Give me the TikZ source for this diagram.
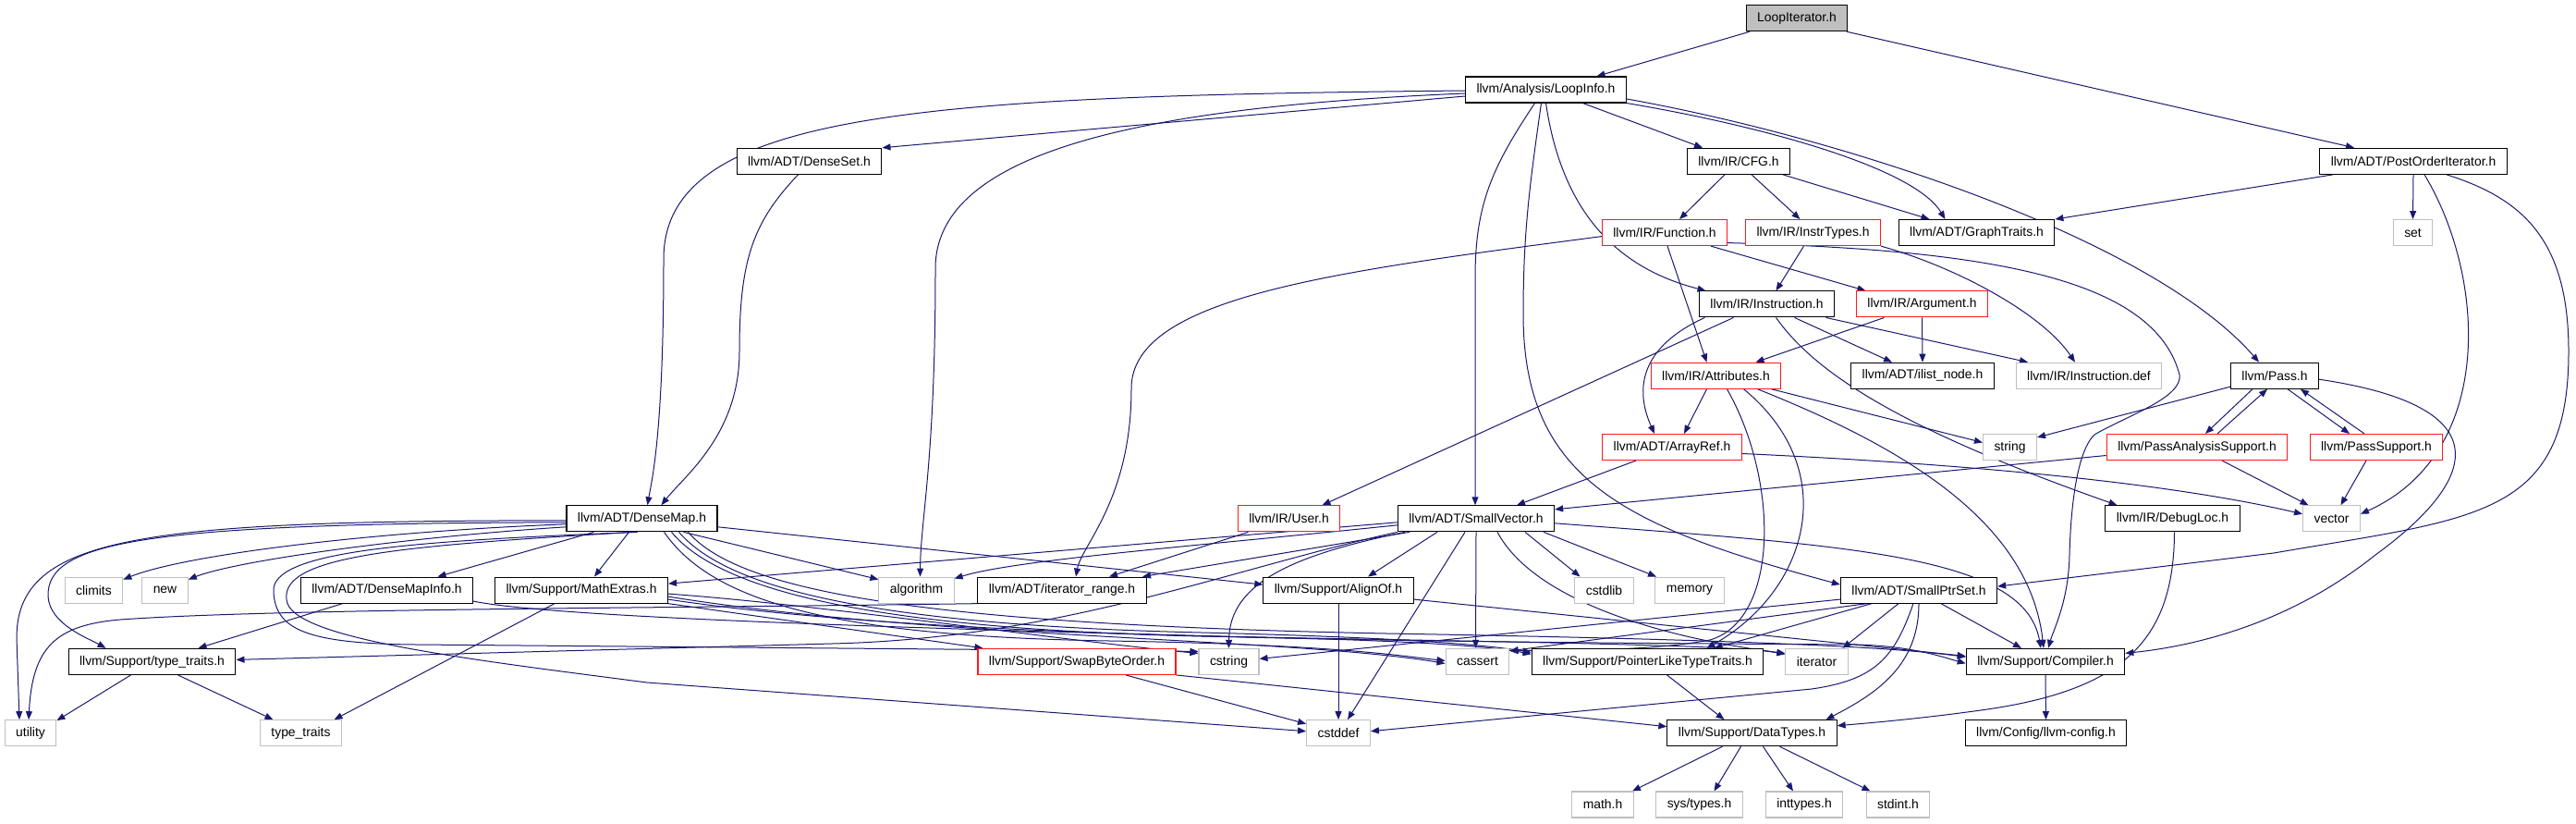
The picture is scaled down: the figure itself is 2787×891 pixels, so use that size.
\documentclass[tikz,border=0pt]{standalone}
\usepackage{fontspec}
\setmainfont{Liberation Sans}
\usepackage{tikz}
\usetikzlibrary{arrows.meta,backgrounds}
\definecolor{edgeblue}{HTML}{191970}
\definecolor{boxgrey}{HTML}{BFBFBF}
\definecolor{boxred}{HTML}{FF1A1A}

\begin{document}
\begin{tikzpicture}[x=1pt, y=-1pt, >={Triangle[length=9pt,width=7pt]},
  every node/.style={font=\fontsize{13.9}{16}\selectfont, minimum height=28pt, inner xsep=12pt, inner ysep=0pt, line width=1.1pt},
  file/.style={draw=black, fill=white},
  trunc/.style={draw=boxred, fill=white},
  sys/.style={draw=boxgrey, fill=white},
  mainfile/.style={draw=black, fill=boxgrey},
  dep/.style={->, draw=edgeblue, line width=1pt}]
\useasboundingbox (0,0) rectangle (2787,891);

\node[mainfile] (itr) at (1944,19.7) {LoopIterator.h};

\node[file] (li) at (1672.5,97) {llvm/Analysis/LoopInfo.h};

\node[file] (ds) at (875.5,174.3) {llvm/ADT/DenseSet.h};
\node[file] (cfg) at (1881,174.3) {llvm/IR/CFG.h};
\node[file] (poi) at (2611,174.3) {llvm/ADT/PostOrderIterator.h};

\node[trunc] (fn) at (1801,251.6) {llvm/IR/Function.h};
\node[trunc] (ity) at (1961.5,251.6) {llvm/IR/InstrTypes.h};
\node[file] (gt) at (2138.5,251.6) {llvm/ADT/GraphTraits.h};
\node[sys] (sset) at (2610.5,251.6) {set};

\node[file] (ins) at (1911.5,328.9) {llvm/IR/Instruction.h};
\node[trunc] (arg) at (2079.5,328.9) {llvm/IR/Argument.h};

\node[trunc] (attr) at (1856.5,406.2) {llvm/IR/Attributes.h};
\node[file] (iln) at (2080,406.2) {llvm/ADT/ilist\_node.h};
\node[sys] (idef) at (2260,406.2) {llvm/IR/Instruction.def};
\node[file] (pass) at (2461,406.2) {llvm/Pass.h};

\node[trunc] (aref) at (1809,483.5) {llvm/ADT/ArrayRef.h};
\node[sys] (str) at (2174.5,483.5) {string};
\node[trunc] (pas) at (2377,483.5) {llvm/PassAnalysisSupport.h};
\node[trunc] (ps) at (2571,483.5) {llvm/PassSupport.h};

\node[file] (dm) at (694.5,560.8) {llvm/ADT/DenseMap.h};
\node[trunc] (usr) at (1394.5,560.8) {llvm/IR/User.h};
\node[file] (sv) at (1597,560.8) {llvm/ADT/SmallVector.h};
\node[file] (dl) at (2350.5,560.8) {llvm/IR/DebugLoc.h};
\node[sys] (vec) at (2522.5,560.8) {vector};

\node[sys] (cl) at (101.5,638.1) {climits};
\node[sys] (nw) at (178.5,638.1) {new};
\node[file] (dmi) at (418.5,638.1) {llvm/ADT/DenseMapInfo.h};
\node[file] (mx) at (629,638.1) {llvm/Support/MathExtras.h};
\node[sys] (alg) at (991.5,638.1) {algorithm};
\node[file] (ir) at (1149,638.1) {llvm/ADT/iterator\_range.h};
\node[file] (ao) at (1448,638.1) {llvm/Support/AlignOf.h};
\node[sys] (csl) at (1735.5,638.1) {cstdlib};
\node[sys] (mem) at (1828,638.1) {memory};
\node[file] (sps) at (2076,638.1) {llvm/ADT/SmallPtrSet.h};

\node[file] (tth) at (164.5,715.4) {llvm/Support/type\_traits.h};
\node[trunc] (sbo) at (1165,715.4) {llvm/Support/SwapByteOrder.h};
\node[sys] (cst) at (1329.5,715.4) {cstring};
\node[sys] (cas) at (1598.5,715.4) {cassert};
\node[file] (pltt) at (1782.5,715.4) {llvm/Support/PointerLikeTypeTraits.h};
\node[sys] (iter) at (1965.5,715.4) {iterator};
\node[file] (comp) at (2213,715.4) {llvm/Support/Compiler.h};

\node[sys] (util) at (33,792.7) {utility};
\node[sys] (tt) at (325.5,792.7) {type\_traits};
\node[sys] (cdef) at (1448,792.7) {cstddef};
\node[file] (dt) at (1895.5,792.7) {llvm/Support/DataTypes.h};
\node[file] (lcfg) at (2213.5,792.7) {llvm/Config/llvm-config.h};

\node[sys] (math) at (1734,870) {math.h};
\node[sys] (syst) at (1838.5,870) {sys/types.h};
\node[sys] (intt) at (1952,870) {inttypes.h};
\node[sys] (sint) at (2053.5,870) {stdint.h};

\begin{scope}[on background layer]
% top of the graph
\draw[dep] ([xshift=-51pt]itr.south) -- ([xshift=55pt]li.north);
\draw[dep] ([xshift=54pt]itr.south) -- ([xshift=-64pt]poi.north);

\draw[dep] ([yshift=-1pt]li.west) .. controls (1000,104) and (718,120) .. (718,280) .. controls (718,470) and (705,520) .. ([xshift=6pt]dm.north);
\draw[dep] ([yshift=-7pt]li.west) -- (ds.north east);
\draw[dep] ([yshift=-4pt]li.west) .. controls (1250,115) and (1012,160) .. (1012,290) .. controls (1012,500) and (996,560) .. ([xshift=4pt]alg.north);
\draw[dep] ([xshift=-12pt]li.south) .. controls (1615,180) and (1596,220) .. (1596,300) -- ([xshift=-1pt]sv.north);
\draw[dep] ([xshift=-5pt]li.south) .. controls (1655,200) and (1648,250) .. (1648,340) .. controls (1648,520) and (1760,570) .. ([yshift=6pt]sps.west);
\draw[dep] (li.south) .. controls (1690,230) and (1750,290) .. ([xshift=-66pt]ins.north);
\draw[dep] ([xshift=40pt]li.south) -- ([xshift=-39pt]cfg.north);
\draw[dep] (li.south east) .. controls (1900,135) and (2070,180) .. ([xshift=-34pt]gt.north);
\draw[dep] ([yshift=-10pt]li.east) .. controls (2000,150) and (2330,260) .. ([xshift=-17pt]pass.north);

\draw[dep] ([xshift=-87pt]poi.south) -- (gt.north east);
\draw[dep] (poi.south) -- (sset.north);
\draw[dep] ([xshift=12pt]poi.south) .. controls (2690,300) and (2700,490) .. ([yshift=5pt]vec.east);
\draw[dep] ([xshift=36pt]poi.south) .. controls (2730,215) and (2779,260) .. (2779,380) .. controls (2779,560) and (2680,560) .. (2460,598) -- ([yshift=4pt]sps.east);

\draw[dep] ([xshift=-12pt]ds.south) .. controls (815,240) and (800,280) .. (800,380) .. controls (800,470) and (740,515) .. ([xshift=21pt]dm.north);

\draw[dep] ([xshift=-15pt]cfg.south) -- ([xshift=16pt]fn.north);
\draw[dep] ([xshift=14pt]cfg.south) -- ([xshift=-14pt]ity.north);
\draw[dep] ([xshift=48pt]cfg.south) -- ([xshift=-51pt]gt.north);

% IR headers
\draw[dep] ([yshift=-4pt]fn.west) .. controls (1450,293) and (1224,320) .. (1224,420) .. controls (1224,540) and (1170,590) .. ([xshift=15pt]ir.north);
\draw[dep] ([xshift=3pt]fn.south) -- ([xshift=-10pt]attr.north);
\draw[dep] ([xshift=50pt]fn.south) -- ([xshift=-61pt]arg.north);
\draw[dep] ([yshift=-11pt]fn.east) .. controls (2150,270) and (2330,300) .. (2358,405) .. controls (2362,430) and (2300,450) .. (2266,470) .. controls (2245,490) and (2240,560) .. (2239,600) .. controls (2238,650) and (2222,680) .. ([xshift=3pt]comp.north);

\draw[dep] ([xshift=-10pt]ity.south) -- ([xshift=10pt]ins.north);
\draw[dep] (ity.south east) .. controls (2120,290) and (2210,340) .. ([xshift=-15pt]idef.north);

\draw[dep] ([xshift=-67pt]ins.south) .. controls (1775,375) and (1768,420) .. ([xshift=-19pt]aref.north);
\draw[dep] ([xshift=-36pt]ins.south) -- ([xshift=36pt]usr.north);
\draw[dep] ([xshift=30pt]ins.south) -- ([xshift=-33pt]iln.north);
\draw[dep] ([xshift=64pt]ins.south) -- ([xshift=-66pt]idef.north);
\draw[dep] ([xshift=10pt]ins.south) .. controls (1965,405) and (2060,465) .. ([xshift=-60pt]dl.north);

\draw[dep] ([xshift=-41pt]arg.south) -- ([xshift=43pt]attr.north);
\draw[dep] (arg.south) -- (iln.north);

\draw[dep] ([xshift=-10pt]attr.south) -- ([xshift=13pt]aref.north);
\draw[dep] ([xshift=60pt]attr.south) -- ([yshift=5pt]str.west);
\draw[dep] ([xshift=45pt]attr.south) .. controls (2050,480) and (2195,560) .. ([xshift=-2pt]comp.north);
\draw[dep] ([xshift=12pt]attr.south) .. controls (1925,520) and (1925,670) .. (1850,692) .. controls (1780,705) and (1700,702) .. ([yshift=-3pt]cas.north east);
\draw[dep] ([xshift=30pt]attr.south) .. controls (1995,510) and (1955,640) .. ([xshift=64pt]pltt.north);

\draw[dep] ([xshift=-39pt]aref.south) -- ([xshift=44pt]sv.north);
\draw[dep] ([yshift=-7pt]aref.east) .. controls (2200,505) and (2380,530) .. ([yshift=5pt]vec.west);

% pass headers
\draw[dep] ([yshift=-12pt]pass.west) -- ([yshift=-4pt]str.north east);
\draw[dep] ([xshift=-24pt]pass.south) -- ([xshift=9pt]pas.north);
\draw[dep] ([xshift=22pt]pas.north) -- ([xshift=-8pt]pass.south);
\draw[dep] ([xshift=14pt]pass.south) -- ([xshift=-29pt]ps.north);
\draw[dep] ([xshift=-13pt]ps.north) -- ([xshift=28pt]pass.south);
\draw[dep] ([yshift=-4pt]pass.east) .. controls (2710,440) and (2680,520) .. (2570,600) .. controls (2480,672) and (2380,698) .. ([yshift=9pt]comp.east);
\draw[dep] ([xshift=27pt]pas.south) -- ([xshift=-25pt]vec.north);
\draw[dep] ([yshift=-9pt]pas.west) -- ([yshift=10pt]sv.east);
\draw[dep] ([xshift=-11pt]ps.south) -- ([xshift=10pt]vec.north);

\draw[dep] ([xshift=2pt]dl.south) .. controls (2352,690) and (2300,745) .. (2150,767) .. controls (2080,777) and (2020,782) .. ([yshift=8pt]dt.east);
\draw[dep] ([xshift=-44pt]usr.south) -- ([xshift=51pt]ir.north);

% SmallVector.h
\draw[dep] ([yshift=-7pt]sv.west) .. controls (1300,590) and (1100,605) .. ([yshift=-2pt]alg.north east);
\draw[dep] ([yshift=-4pt]sv.west) -- ([yshift=7pt]mx.east);
\draw[dep] ([xshift=-72pt]sv.south) -- ([xshift=87pt]ir.north);
\draw[dep] (sv.south west) .. controls (1330,615) and (1150,690) .. (900,696) -- ([yshift=2pt]tth.east);
\draw[dep] ([xshift=-42pt]sv.south) -- ([xshift=32pt]ao.north);
\draw[dep] ([xshift=-12pt]sv.south) -- ([xshift=10pt]cdef.north);
\draw[dep] (sv.south) -- ([xshift=-2pt]cas.north);
\draw[dep] ([xshift=-77pt]sv.south) .. controls (1400,600) and (1330,630) .. (cst.north);
\draw[dep] ([xshift=53pt]sv.south) -- ([xshift=-26pt]csl.north);
\draw[dep] ([xshift=73pt]sv.south) -- ([xshift=-36pt]mem.north);
\draw[dep] ([xshift=23pt]sv.south) .. controls (1660,650) and (1800,690) .. ([yshift=9pt]iter.west);
\draw[dep] ([yshift=-5pt]sv.east) .. controls (2000,590) and (2190,600) .. ([xshift=-5pt]comp.north);

% DenseMap.h
\draw[dep] ([yshift=-2pt]dm.west) .. controls (150,563) and (18,580) .. (18,690) -- ([xshift=-12pt]util.north);
\draw[dep] ([yshift=-4pt]dm.west) .. controls (160,566) and (50,585) .. (52,645) .. controls (54,675) and (95,690) .. ([xshift=-50pt]tth.north);
\draw[dep] ([yshift=-6pt]dm.west) .. controls (400,575) and (200,600) .. ([yshift=-3pt]cl.north east);
\draw[dep] ([yshift=-9pt]dm.west) .. controls (450,580) and (260,605) .. ([yshift=-3pt]nw.north east);
\draw[dep] ([xshift=-52pt]dm.south) -- ([xshift=55pt]dmi.north);
\draw[dep] ([xshift=-14pt]dm.south) -- ([xshift=14pt]mx.north);
\draw[dep] ([xshift=45pt]dm.south) -- ([yshift=-3pt]alg.north west);
\draw[dep] ([yshift=-9pt]dm.east) -- ([yshift=6pt]ao.west);
\draw[dep] ([xshift=-5pt]dm.south) .. controls (450,585) and (292,595) .. (296,640) .. controls (298,680) and (330,696) .. (450,697) -- ([yshift=11pt]cst.west);
\draw[dep] ([xshift=-9pt]dm.south) .. controls (440,590) and (304,600) .. (310,648) .. controls (312,690) and (500,712) .. (700,738) -- ([yshift=2pt]cdef.west);
\draw[dep] ([xshift=24pt]dm.south) .. controls (770,650) and (900,688) .. (1200,693) .. controls (1450,697) and (1520,710) .. ([yshift=1pt]cas.west);
\draw[dep] ([xshift=32pt]dm.south) .. controls (780,640) and (950,680) .. (1300,688) .. controls (1700,695) and (1880,698) .. ([yshift=8pt]iter.west);
\draw[dep] ([xshift=40pt]dm.south) .. controls (790,640) and (960,676) .. (1300,684) .. controls (1500,689) and (1600,696) .. ([yshift=10pt]pltt.west);
\draw[dep] ([xshift=50pt]dm.south) .. controls (800,640) and (1000,675) .. (1500,685) .. controls (1900,692) and (2050,700) .. ([yshift=5pt]comp.west);

% MathExtras.h, DenseMapInfo.h
\draw[dep] ([xshift=-29pt]mx.south) -- ([xshift=36pt]tt.north);
\draw[dep] (mx.south east) -- ([xshift=6pt]sbo.north west);
\draw[dep] ([yshift=-4pt]mx.east) .. controls (900,655) and (1150,693) .. ([yshift=9pt]cst.west);
\draw[dep] ([yshift=-7pt]mx.east) .. controls (1000,690) and (1400,690) .. ([yshift=-2pt]cas.west);
\draw[dep] ([yshift=-10pt]mx.east) .. controls (1000,690) and (1500,694) .. (2010,697) .. controls (2070,699) and (2100,710) .. ([yshift=-2pt]comp.west);

\draw[dep] ([xshift=-48pt]dmi.south) -- ([xshift=50pt]tth.north);
\draw[dep] ([yshift=-12pt]dmi.east) .. controls (600,668) and (1000,680) .. (1400,690) .. controls (1550,694) and (1620,700) .. ([yshift=8pt]pltt.west);

\draw[dep] (ir.south west) .. controls (700,658) and (300,658) .. (130,670) .. controls (60,676) and (35,700) .. ([xshift=-2pt]util.north);

\draw[dep] ([xshift=-23pt]tth.south) -- ([yshift=-1pt]util.north east);
\draw[dep] ([xshift=28pt]tth.south) -- ([xshift=-30pt]tt.north);

\draw[dep] (ao.south) -- (cdef.north);
\draw[dep] ([yshift=-10pt]ao.east) -- ([yshift=6pt]comp.west);

\draw[dep] ([xshift=53pt]sbo.south) -- ([yshift=10pt]cdef.west);
\draw[dep] (sbo.south east) -- ([yshift=7pt]dt.west);
\draw[dep] ([xshift=21pt]pltt.south) -- ([xshift=-30pt]dt.north);

% SmallPtrSet.h
\draw[dep] ([yshift=-10pt]sps.west) -- ([yshift=3pt]cst.east);
\draw[dep] ([xshift=-56pt]sps.south) -- ([yshift=-3pt]cas.north east);
\draw[dep] ([xshift=-51pt]sps.south) -- ([xshift=72pt]pltt.north);
\draw[dep] ([xshift=-22pt]sps.south) -- ([xshift=28pt]iter.north);
\draw[dep] ([xshift=-6pt]sps.south) .. controls (2050,710) and (2030,735) .. (1960,745) -- ([yshift=2pt]cdef.east);
\draw[dep] (sps.south) .. controls (2076,720) and (2030,750) .. ([xshift=80pt]dt.north);
\draw[dep] ([xshift=24pt]sps.south) -- ([xshift=-26pt]comp.north);

\draw[dep] (comp.south) -- (lcfg.north);
\draw[dep] ([xshift=-32pt]dt.south) -- ([xshift=32pt]math.north);
\draw[dep] ([xshift=-12pt]dt.south) -- ([xshift=16pt]syst.north);
\draw[dep] ([xshift=12pt]dt.south) -- ([xshift=-12pt]intt.north);
\draw[dep] ([xshift=30pt]dt.south) -- ([xshift=-30pt]sint.north);
\end{scope}
\end{tikzpicture}
\end{document}
